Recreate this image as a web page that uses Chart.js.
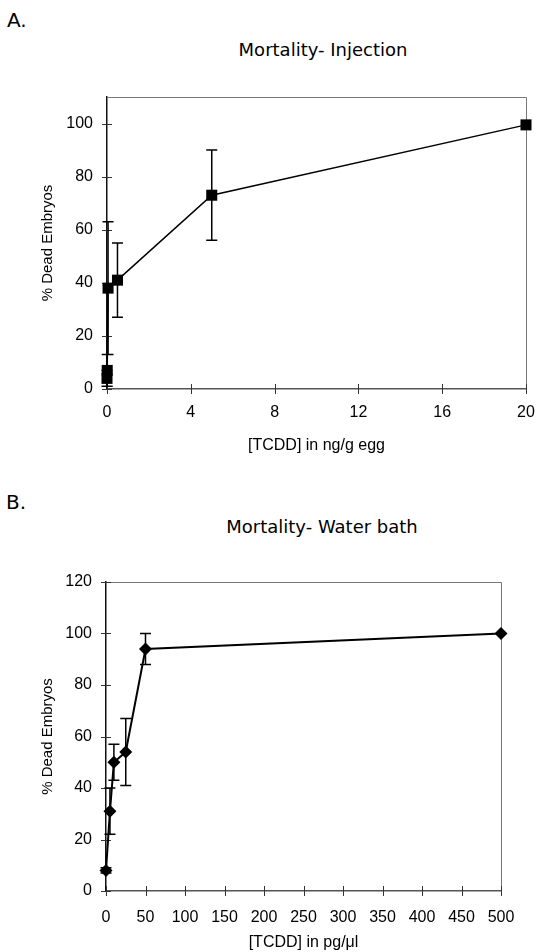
<!DOCTYPE html>
<html>
<head>
<meta charset="utf-8">
<script src="https://cdn.jsdelivr.net/npm/chart.js@4"></script>
<style>
  body { margin: 0; background: #fff; }
  #page { position: relative; width: 537px; height: 952px; overflow: hidden; background: #fff; }
  .lbl { position: absolute; font-family: "DejaVu Sans", sans-serif; color: #000; white-space: nowrap; line-height: 20px; }
  .ttl { position: absolute; font-family: "DejaVu Sans", sans-serif; font-size: 18px; color: #000; white-space: nowrap; line-height: 18px; transform: translateX(-50%); }
  canvas { position: absolute; left: 0; }
</style>
</head>
<body>
<div id="page">
  <div class="lbl" style="left:7px; top:10px; font-size:20px;">A.</div>
  <div class="ttl" style="left:323px; top:41px;">Mortality- Injection</div>
  <div class="lbl" style="left:6px; top:492px; font-size:20px;">B.</div>
  <div class="ttl" style="left:322px; top:518px;">Mortality- Water bath</div>
  <canvas id="chartA" width="537" height="400" style="top:60px; width:537px; height:400px;"></canvas>
  <canvas id="chartB" width="537" height="392" style="top:560px; width:537px; height:392px;"></canvas>
</div>
<script>
// A: injection
const doseA = [0, 0.01, 0.05, 0.5, 5, 20];
const deadA = [4, 7, 38, 41, 73, 99.5];
const errA = [3, 6, 25, 14, 17, 0];
const xTicksA = [0, 4, 8, 12, 16, 20];
const yTicksA = [0, 20, 40, 60, 80, 100];

// B: water bath
const doseB = [0, 5, 10, 25, 50, 500];
const deadB = [8, 31, 50, 54, 94, 100];
const errB = [1, 9, 7, 13, 6, 0];
const xTicksB = [0, 50, 100, 150, 200, 250, 300, 350, 400, 450, 500];
const yTicksB = [0, 20, 40, 60, 80, 100, 120];

const tickFont = { family: 'Liberation Sans', size: 16 };

// frame, crossing tick marks and error bars
const extras = {
  id: 'extras',
  beforeDatasetsDraw(chart, args, opts) {
    const ctx = chart.ctx;
    const a = chart.chartArea;
    const xs = chart.scales.x, ys = chart.scales.y;
    ctx.save();
    ctx.strokeStyle = '#777';
    ctx.lineWidth = 1;
    ctx.beginPath();
    ctx.moveTo(a.left, a.top + 0.5);
    ctx.lineTo(a.right + 0.5, a.top + 0.5);
    ctx.lineTo(a.right + 0.5, a.bottom);
    ctx.stroke();

    ctx.strokeStyle = '#333';
    ctx.lineWidth = 1;
    ctx.beginPath();
    xs.ticks.forEach(t => {
      const px = Math.round(xs.getPixelForValue(t.value)) + 0.5;
      ctx.moveTo(px, a.bottom - 5);
      ctx.lineTo(px, a.bottom + 5);
    });
    ys.ticks.forEach(t => {
      const py = Math.round(ys.getPixelForValue(t.value)) + 0.5;
      ctx.moveTo(a.left - 5, py);
      ctx.lineTo(a.left + 5, py);
    });
    ctx.stroke();

    const ds = chart.data.datasets[0].data;
    const err = opts.err || [];
    ctx.strokeStyle = '#000';
    ctx.lineWidth = 1.5;
    ctx.beginPath();
    ds.forEach((p, i) => {
      if (!err[i]) return;
      const px = xs.getPixelForValue(p.x);
      const top = ys.getPixelForValue(p.y + err[i]);
      const bot = ys.getPixelForValue(p.y - err[i]);
      ctx.moveTo(px, top);
      ctx.lineTo(px, bot);
      ctx.moveTo(px - opts.cap, top);
      ctx.lineTo(px + opts.cap, top);
      ctx.moveTo(px - opts.cap, bot);
      ctx.lineTo(px + opts.cap, bot);
    });
    ctx.stroke();
    ctx.restore();
  }
};

function makeChart(id, cfg) {
  const points = cfg.xs.map((x, i) => ({ x: x, y: cfg.ys[i] }));
  return new Chart(document.getElementById(id), {
    type: 'line',
    data: {
      datasets: [{
        data: points,
        borderColor: '#000',
        backgroundColor: '#000',
        borderWidth: cfg.lineWidth,
        pointStyle: cfg.pointStyle,
        pointRadius: cfg.pointRadius,
        pointBorderWidth: 0,
        tension: 0,
        clip: false
      }]
    },
    options: {
      responsive: false,
      animation: false,
      events: [],
      layout: { padding: cfg.padding },
      plugins: {
        legend: { display: false },
        tooltip: { enabled: false },
        extras: { err: cfg.err, cap: 5.5 }
      },
      scales: {
        x: {
          type: 'linear',
          min: cfg.xTicks[0],
          max: cfg.xTicks[cfg.xTicks.length - 1],
          afterBuildTicks: s => { s.ticks = cfg.xTicks.map(v => ({ value: v })); },
          afterFit: s => {
            s.height = cfg.xHeight;
            s.paddingLeft = 0;
            s.paddingRight = 0;
          },
          grid: { display: false, drawTicks: false },
          border: { display: true, color: '#555', width: 1.5 },
          ticks: { font: tickFont, color: '#000', padding: cfg.xPad, maxRotation: 0, autoSkip: false },
          title: {
            display: true,
            text: cfg.xTitle,
            font: { family: 'Liberation Sans', size: 16 },
            color: '#000',
            padding: { top: 0, bottom: cfg.xTitlePad }
          }
        },
        y: {
          type: 'linear',
          min: 0,
          max: cfg.yMax,
          afterBuildTicks: s => { s.ticks = cfg.yTicks.map(v => ({ value: v })); },
          afterFit: s => {
            s.width = cfg.yWidth;
            s.paddingTop = 0;
            s.paddingBottom = 0;
          },
          grid: { display: false, drawTicks: false },
          border: { display: true, color: '#111', width: 1.5 },
          ticks: { font: tickFont, color: '#000', padding: 14 },
          title: {
            display: true,
            text: '% Dead Embryos',
            font: { family: 'Liberation Sans', size: 15 },
            color: '#000',
            padding: { top: 39, bottom: 0 }
          }
        }
      }
    },
    plugins: [extras]
  });
}

makeChart('chartA', {
  xs: doseA, ys: deadA, err: errA,
  xTicks: xTicksA, yTicks: yTicksA, yMax: 110,
  pointStyle: 'rect', pointRadius: 7.8, lineWidth: 1.5,
  padding: { top: 37, right: 11, left: 0, bottom: 0 },
  xHeight: 71, yWidth: 107, xPad: 14, xTitlePad: 5,
  xTitle: '[TCDD] in ng/g egg'
});

makeChart('chartB', {
  xs: doseB, ys: deadB, err: errB,
  xTicks: xTicksB, yTicks: yTicksB, yMax: 120,
  pointStyle: 'rectRot', pointRadius: 6.5, lineWidth: 2,
  padding: { top: 22, right: 36, left: 0, bottom: 0 },
  xHeight: 61, yWidth: 106, xPad: 17, xTitlePad: 0,
  xTitle: '[TCDD] in pg/μl'
});
</script>
</body>
</html>
